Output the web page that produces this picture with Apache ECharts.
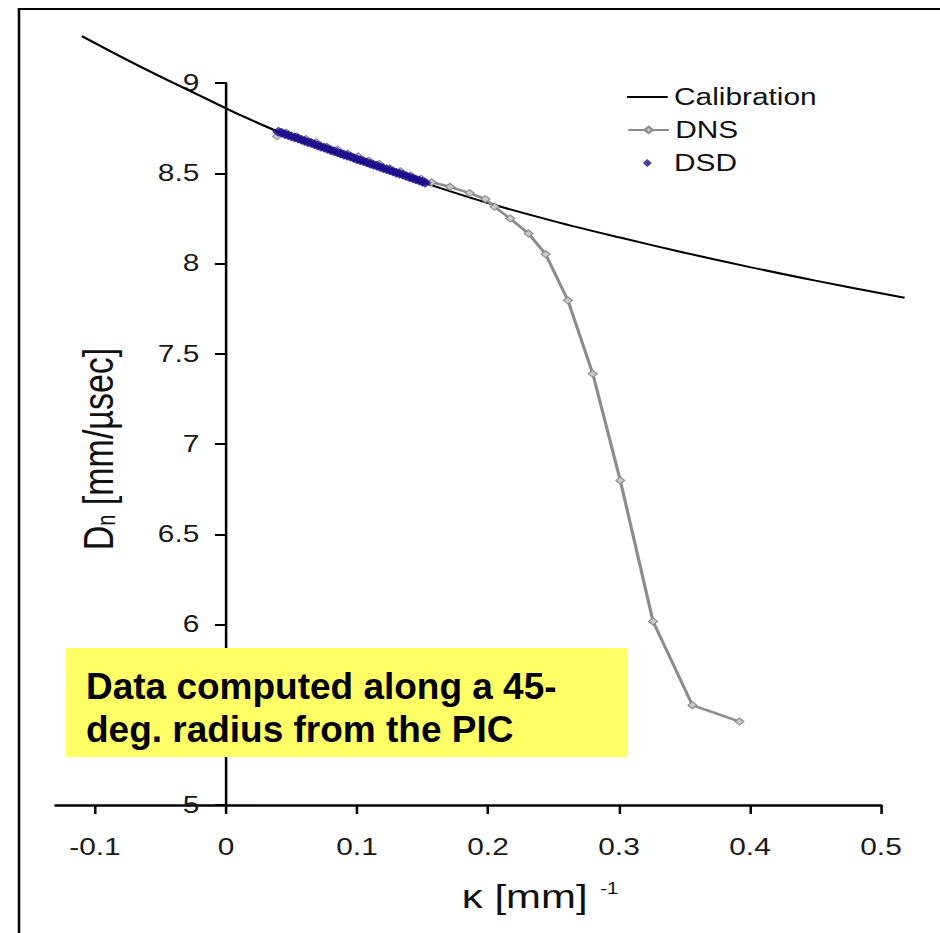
<!DOCTYPE html>
<html>
<head>
<meta charset="utf-8">
<script src="https://cdn.jsdelivr.net/npm/echarts@6/dist/echarts.min.js"></script>
<style>
html,body{margin:0;padding:0;background:#fff;overflow:hidden;}
#wrap{width:940px;height:933px;overflow:hidden;position:relative;background:#fff;}
#chart{width:740px;height:933px;transform:scaleX(1.27027);transform-origin:0 0;}
</style>
</head>
<body>
<div id="wrap"><div id="chart"></div></div>
<script>
// ---- data ----
const calibrationK = [-0.11, -0.08, -0.05, -0.02, 0.01, 0.05, 0.1, 0.15, 0.2, 0.25, 0.3, 0.35, 0.4, 0.45, 0.518];
const calibrationD = [9.26, 9.145, 9.035, 8.93, 8.825, 8.70, 8.57, 8.45, 8.335, 8.235, 8.145, 8.06, 7.98, 7.905, 7.81];

const dnsK = [0.039, 0.046, 0.054, 0.061, 0.069, 0.077, 0.085, 0.093, 0.101, 0.109, 0.117, 0.125, 0.133, 0.141, 0.149, 0.157, 0.171, 0.186, 0.198, 0.205, 0.217, 0.231, 0.244, 0.261, 0.280, 0.301, 0.326, 0.356, 0.392];
const dnsD = [8.705, 8.725, 8.705, 8.69, 8.672, 8.648, 8.632, 8.61, 8.594, 8.57, 8.552, 8.528, 8.512, 8.488, 8.47, 8.45, 8.425, 8.39, 8.357, 8.314, 8.249, 8.166, 8.051, 7.796, 7.389, 6.798, 6.017, 5.553, 5.462];

const dsdK = [0.040, 0.0425, 0.045, 0.0475, 0.050, 0.0525, 0.055, 0.0575, 0.060, 0.0625, 0.065, 0.0675, 0.070, 0.0725, 0.075, 0.0775, 0.080, 0.0825, 0.085, 0.0875, 0.090, 0.0925, 0.095, 0.0975, 0.100, 0.1025, 0.105, 0.1075, 0.110, 0.1125, 0.115, 0.1175, 0.120, 0.1225, 0.125, 0.1275, 0.130, 0.1325, 0.135, 0.1375, 0.140, 0.1425, 0.145, 0.1475, 0.150, 0.152];
const dsdD = [8.730, 8.724, 8.716, 8.711, 8.704, 8.698, 8.692, 8.685, 8.679, 8.672, 8.667, 8.660, 8.654, 8.647, 8.641, 8.635, 8.628, 8.622, 8.616, 8.609, 8.603, 8.597, 8.591, 8.584, 8.578, 8.572, 8.566, 8.559, 8.553, 8.547, 8.541, 8.535, 8.528, 8.522, 8.516, 8.510, 8.503, 8.497, 8.491, 8.485, 8.478, 8.472, 8.466, 8.460, 8.453, 8.447];

const xTickValues = [-0.1, 0, 0.1, 0.2, 0.3, 0.4, 0.5];
const seriesNames = ['Calibration', 'DNS', 'DSD'];
const noteText = 'Data computed along a 45-\ndeg. radius from the PIC';

// ---- chart ----
const S = 940 / 740;            // horizontal stretch of the original picture
const FONT = '"Liberation Sans", Arial, Helvetica, sans-serif';
const X_MIN = -0.13, X_MAX = 0.5, X_MAX_WIDE = 0.52;
const PX_PER_UNIT = (881 - 55.7) / (X_MAX - X_MIN);       // picture pixels per kappa unit
const gridLeft = 55.7 / S;
const gridRight = 740 - 881 / S;
const gridRightWide = 740 - (55.7 + (X_MAX_WIDE - X_MIN) * PX_PER_UNIT) / S;
const yAxisOffset = -(0 - X_MIN) * PX_PER_UNIT / S;        // put the y axis at kappa = 0
const pairs = (xs, ys) => xs.map((x, i) => [x, ys[i]]);
const legendText = {fontSize: 23.5, color: '#111', fontFamily: FONT};

const chart = echarts.init(document.getElementById('chart'), null, {renderer: 'svg'});
chart.setOption({
  animation: false,
  backgroundColor: '#ffffff',
  grid: [
    {left: gridLeft, right: gridRight, top: 83, bottom: 128, containLabel: false, outerBoundsMode: 'none'},
    {left: gridLeft, right: gridRightWide, top: 83, bottom: 128, containLabel: false, outerBoundsMode: 'none'}
  ],
  xAxis: [{
    gridIndex: 0, type: 'value', min: X_MIN, max: X_MAX,
    splitLine: {show: false},
    axisLine: {show: true, onZero: false, lineStyle: {color: '#000', width: 2.5}},
    axisTick: {show: true, inside: false, length: 9, customValues: xTickValues, lineStyle: {color: '#000', width: 2}},
    axisLabel: {customValues: xTickValues, margin: 30, fontSize: 23.5, color: '#1a1a1a', fontFamily: FONT},
    name: '{k|κ [mm]}{s|-1}',
    nameLocation: 'middle', nameGap: 75, nameMoveOverlap: false,
    nameTextStyle: {
      padding: [0, 0, 0, 113],
      rich: {
        k: {fontSize: 33, color: '#111', fontFamily: FONT},
        s: {fontSize: 16, color: '#111', fontFamily: FONT, verticalAlign: 'top', padding: [0, 0, 0, 10]}
      }
    }
  }, {
    gridIndex: 1, type: 'value', min: X_MIN, max: X_MAX_WIDE, show: false
  }],
  yAxis: [{
    gridIndex: 0, type: 'value', min: 5, max: 9, interval: 0.5,
    offset: yAxisOffset,
    splitLine: {show: false},
    axisLine: {show: true, onZero: false, lineStyle: {color: '#000', width: 2}},
    axisTick: {show: true, inside: false, length: 8.7, lineStyle: {color: '#000', width: 2}},
    axisLabel: {margin: 21, fontSize: 23.5, color: '#1a1a1a', fontFamily: FONT},
    name: '{d|D}{n|n}{t| [mm/µsec]}',
    nameLocation: 'middle', nameGap: 84, nameMoveOverlap: false,
    nameTextStyle: {
      padding: [0, 10, 0, 0],
      rich: {
        d: {fontSize: 34, color: '#111', fontFamily: FONT},
        n: {fontSize: 20, color: '#111', fontFamily: FONT, verticalAlign: 'bottom'},
        t: {fontSize: 34, color: '#111', fontFamily: FONT}
      }
    }
  }, {
    gridIndex: 1, type: 'value', min: 5, max: 9, show: false
  }],
  legend: [
    {data: [seriesNames[0]], left: 627 / S, top: 85, padding: 0, icon: 'rect', itemWidth: 32, itemHeight: 2,
     textStyle: legendText},
    {data: [seriesNames[1]], left: 627 / S, top: 118, padding: 0, itemWidth: 32, itemHeight: 8,
     textStyle: legendText},
    {data: [seriesNames[2]], left: 627 / S, top: 151, padding: 0, itemWidth: 32, itemHeight: 8,
     icon: 'path://M0,0M32,8M12.5,4L16,0L19.5,4L16,8Z',
     textStyle: legendText}
  ],
  series: [
    {
      name: seriesNames[0], type: 'line', xAxisIndex: 1, yAxisIndex: 1,
      data: pairs(calibrationK, calibrationD),
      smooth: 0.35, symbol: 'none', clip: false, color: '#000',
      lineStyle: {color: '#000', width: 2}, z: 2
    },
    {
      name: seriesNames[1], type: 'line', data: pairs(dnsK, dnsD),
      symbol: 'diamond', symbolSize: 7, showSymbol: true, clip: false, color: '#8c8c8c',
      lineStyle: {color: '#8c8c8c', width: 2.5},
      itemStyle: {color: '#c9c9c9', borderColor: '#8c8c8c', borderWidth: 1}, z: 3
    },
    {
      name: seriesNames[2], type: 'scatter', data: pairs(dsdK, dsdD),
      symbol: 'diamond', symbolSize: 10, clip: false, color: '#1b0d8c',
      itemStyle: {color: '#1b0d8c'}, z: 4
    }
  ],
  graphic: {
    elements: [
      {type: 'rect', silent: true, z: 100,
       shape: {x: 19 / S, y: 9, width: 1000, height: 1200},
       style: {fill: 'none', stroke: '#000', lineWidth: 2}},
      {type: 'rect', silent: true, z: 100,
       shape: {x: 66 / S, y: 648, width: (627 - 66) / S, height: 109},
       style: {fill: '#ffff66'}},
      {type: 'text', silent: true, z: 101,
       x: 86 / S, y: 665, scaleX: 1 / S, scaleY: 1,
       style: {text: noteText, fill: '#000', fontSize: 37, fontWeight: 'bold', fontFamily: FONT,
               lineHeight: 43, verticalAlign: 'top', align: 'left'}}
    ]
  }
});
</script>
</body>
</html>
